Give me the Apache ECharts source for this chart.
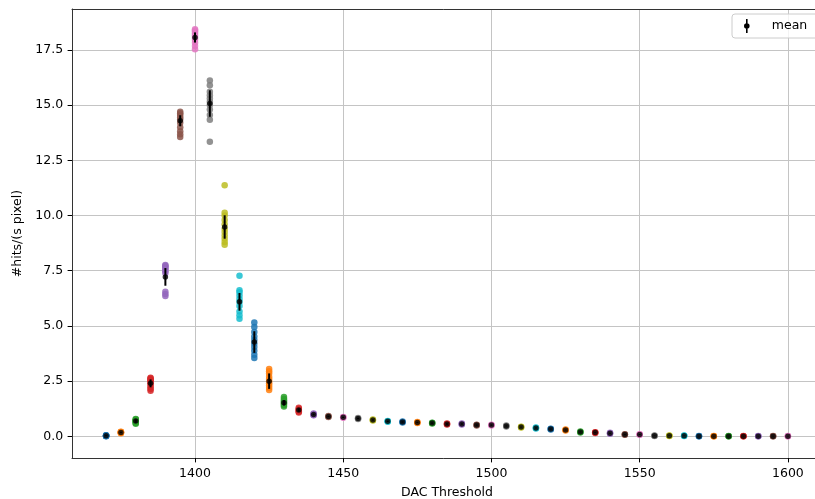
<!DOCTYPE html>
<html>
<head>
<meta charset="utf-8">
<script src="https://cdn.jsdelivr.net/npm/echarts@6/dist/echarts.min.js"></script>
<style>
  html, body { margin: 0; padding: 0; background: #fff; }
  #chart { width: 815px; height: 499px; }
</style>
</head>
<body>
<div id="chart"></div>
<script>
// DAC threshold scan: per-threshold hit-rate measurements, their mean and spread
const thresholds = [1370, 1375, 1380, 1385, 1390, 1395, 1400, 1405, 1410, 1415,
  1420, 1425, 1430, 1435, 1440, 1445, 1450, 1455, 1460, 1465,
  1470, 1475, 1480, 1485, 1490, 1495, 1500, 1505, 1510, 1515,
  1520, 1525, 1530, 1535, 1540, 1545, 1550, 1555, 1560, 1565,
  1570, 1575, 1580, 1585, 1590, 1595, 1600];

const meanRate = [0.03, 0.18, 0.69, 2.40, 7.22, 14.29, 18.06, 15.07, 9.48, 6.09,
  4.27, 2.50, 1.52, 1.19, 0.99, 0.90, 0.86, 0.81, 0.74, 0.68,
  0.65, 0.63, 0.60, 0.56, 0.56, 0.51, 0.51, 0.47, 0.42, 0.38,
  0.33, 0.29, 0.20, 0.17, 0.14, 0.08, 0.08, 0.03, 0.03, 0.03,
  0.01, 0.01, 0.01, 0.01, 0.01, 0.01, 0.01];

const rateErr = [0.02, 0.03, 0.08, 0.18, 0.40, 0.25, 0.23, 0.60, 0.53, 0.40,
  0.49, 0.35, 0.12, 0.08, 0.04, 0.03, 0.03, 0.03, 0.03, 0.03,
  0.03, 0.03, 0.03, 0.03, 0.03, 0.03, 0.03, 0.02, 0.02, 0.02,
  0.02, 0.02, 0.02, 0.02, 0.02, 0.02, 0.02, 0.01, 0.01, 0.01,
  0.01, 0.01, 0.01, 0.01, 0.01, 0.01, 0.01];

const hitSamples = [
  [0.01, 0.02, 0.03, 0.04, 0.05, 0.03, 0.02, 0.04],
  [0.14, 0.16, 0.18, 0.20, 0.21, 0.17, 0.19],
  [0.57, 0.61, 0.65, 0.69, 0.72, 0.76, 0.79, 0.70],
  [2.06, 2.14, 2.22, 2.32, 2.40, 2.47, 2.53, 2.58, 2.62, 2.65],
  [6.35, 6.45, 6.55, 7.40, 7.48, 7.55, 7.62, 7.68, 7.72, 7.76],
  [13.55, 13.68, 13.82, 14.00, 14.20, 14.35, 14.45, 14.55, 14.63, 14.70],
  [17.53, 17.68, 17.82, 17.95, 18.05, 18.15, 18.24, 18.32, 18.38, 18.43],
  [13.34, 14.34, 14.55, 14.80, 15.00, 15.15, 15.30, 15.45, 15.60, 15.90, 16.11],
  [8.68, 8.80, 8.95, 9.10, 9.25, 9.40, 9.60, 9.80, 10.00, 10.12, 11.37],
  [5.32, 5.48, 5.65, 5.90, 6.08, 6.22, 6.38, 6.52, 6.62, 7.27],
  [3.55, 3.70, 3.88, 4.05, 4.20, 4.36, 4.52, 4.72, 4.95, 5.15],
  [2.10, 2.20, 2.30, 2.40, 2.50, 2.60, 2.70, 2.85, 2.95, 3.05],
  [1.35, 1.42, 1.48, 1.52, 1.57, 1.63, 1.70, 1.78],
  [1.08, 1.12, 1.16, 1.20, 1.24, 1.29],
  [0.95, 0.97, 0.99, 1.01, 1.03],
  [0.88, 0.90, 0.92],
  [0.84, 0.86, 0.88],
  [0.79, 0.81, 0.83],
  [0.72, 0.74, 0.76],
  [0.66, 0.68, 0.70],
  [0.63, 0.65, 0.67],
  [0.61, 0.63, 0.65],
  [0.58, 0.60, 0.62],
  [0.54, 0.56, 0.58],
  [0.54, 0.56, 0.58],
  [0.49, 0.51, 0.53],
  [0.49, 0.51, 0.53],
  [0.45, 0.47, 0.49],
  [0.40, 0.42, 0.44],
  [0.36, 0.38, 0.40],
  [0.31, 0.33, 0.35],
  [0.27, 0.29, 0.31],
  [0.18, 0.20, 0.22],
  [0.15, 0.17, 0.19],
  [0.12, 0.14, 0.16],
  [0.07, 0.08, 0.10],
  [0.07, 0.08, 0.10],
  [0.02, 0.03, 0.04],
  [0.02, 0.03, 0.04],
  [0.02, 0.03, 0.04],
  [0.00, 0.01, 0.02],
  [0.00, 0.01, 0.02],
  [0.00, 0.01, 0.02],
  [0.00, 0.01, 0.02],
  [0.00, 0.01, 0.02],
  [0.00, 0.01, 0.02],
  [0.00, 0.01, 0.02]
];

const xTicks = [1400, 1450, 1500, 1550, 1600];
const yTicks = [0, 2.5, 5, 7.5, 10, 12.5, 15, 17.5];

const palette = ['#1f77b4', '#ff7f0e', '#2ca02c', '#d62728', '#9467bd',
  '#8c564b', '#e377c2', '#7f7f7f', '#bcbd22', '#17becf'];

const FONT = 'DejaVu Sans';

const sampleData = [];
thresholds.forEach((t, i) => {
  hitSamples[i].forEach(v => {
    sampleData.push({ value: [t, v], itemStyle: { color: palette[i % palette.length] } });
  });
});

const meanData = thresholds.map((t, i) => [t, meanRate[i]]);
const errData = thresholds.map((t, i) => [t, meanRate[i] - rateErr[i], meanRate[i] + rateErr[i]]);

const chart = echarts.init(document.getElementById('chart'));

function axisText() {
  return { color: '#000', fontFamily: FONT, fontSize: 12.5 };
}
function spine() {
  return { show: true, onZero: false, lineStyle: { color: '#333', width: 1 } };
}
function gridLine() {
  return { show: true, lineStyle: { color: '#c4c4c4', width: 1 } };
}

chart.setOption({
  animation: false,
  grid: { left: 72, top: 9, width: 750, height: 449, outerBoundsMode: 'none', containLabel: false, show: false },
  xAxis: [{
    type: 'value',
    min: 1358.5, max: 1611.5,
    name: 'DAC Threshold',
    nameLocation: 'middle',
    nameGap: 28,
    nameTextStyle: axisText(),
    axisLine: spine(),
    axisTick: { show: true, length: 4.4, lineStyle: { color: '#000', width: 1 }, customValues: xTicks },
    axisLabel: Object.assign({ margin: 8.8, customValues: xTicks, formatter: v => String(v) }, axisText()),
    splitLine: gridLine()
  }, {
    // upper frame edge
    type: 'value',
    min: 1358.5, max: 1611.5,
    position: 'top',
    axisLine: spine(),
    axisTick: { show: false },
    axisLabel: { show: false },
    splitLine: { show: false }
  }],
  yAxis: {
    type: 'value',
    min: -0.98, max: 19.35,
    name: '#hits/(s pixel)',
    nameLocation: 'middle',
    nameGap: 48,
    nameTextStyle: axisText(),
    axisLine: spine(),
    axisTick: { show: true, length: 4.4, lineStyle: { color: '#000', width: 1 }, customValues: yTicks },
    axisLabel: Object.assign({ margin: 8.8, customValues: yTicks, formatter: v => v.toFixed(1) }, axisText()),
    splitLine: gridLine()
  },
  legend: {
    data: [{
      name: 'mean',
      icon: 'path://M4.2,0H5.8V14H4.2Z M2.2,7A2.8,2.8,0,1,1,7.8,7A2.8,2.8,0,1,1,2.2,7Z',
      itemStyle: { color: '#000' }
    }],
    left: 732, top: 14,
    itemWidth: 8, itemHeight: 14,
    padding: [5, 20, 5, 12],
    selectedMode: false,
    backgroundColor: 'rgba(255,255,255,0.8)',
    borderColor: '#cccccc', borderWidth: 1, borderRadius: 3,
    textStyle: { color: '#000', fontFamily: FONT, fontSize: 12.5, padding: [0, 0, 0, 16] }
  },
  series: [
    {
      name: 'samples',
      type: 'scatter',
      symbol: 'circle',
      symbolSize: 6.5,
      itemStyle: { opacity: 0.85 },
      data: sampleData,
      z: 2
    },
    {
      name: 'mean',
      type: 'custom',
      data: errData,
      renderItem: (params, api) => {
        const lo = api.coord([api.value(0), api.value(1)]);
        const hi = api.coord([api.value(0), api.value(2)]);
        return {
          type: 'line',
          shape: { x1: lo[0], y1: lo[1], x2: hi[0], y2: hi[1] },
          style: { stroke: '#000', lineWidth: 2 }
        };
      },
      itemStyle: { color: '#000' },
      z: 3
    },
    {
      name: 'mean',
      type: 'scatter',
      symbol: 'circle',
      symbolSize: 5.5,
      itemStyle: { color: '#000' },
      data: meanData,
      z: 4
    }
  ]
});
</script>
</body>
</html>
